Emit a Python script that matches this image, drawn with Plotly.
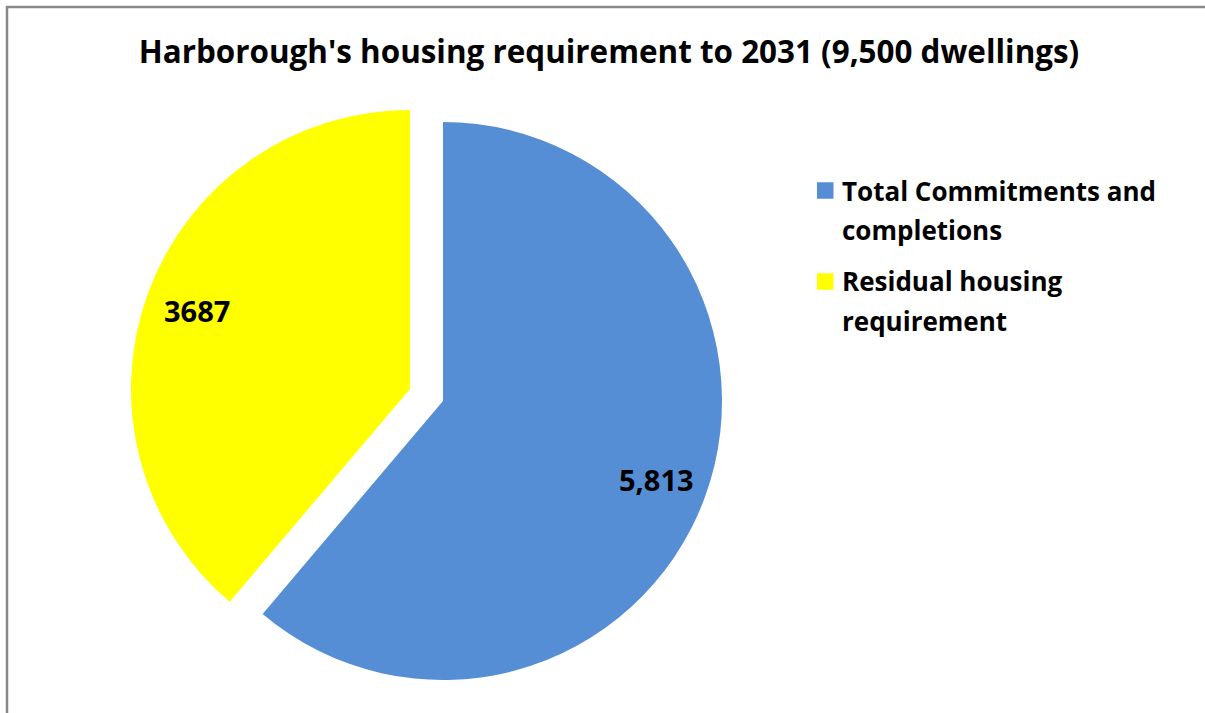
import math
import plotly.graph_objects as go

categories = ["Total Commitments and<br>completions", "Residual housing<br>requirement"]
values = [5813, 3687]
value_labels = ["5,813", "3687"]
colors = ["#558ED5", "#FFFF00"]
title_text = "Harborough's housing requirement to 2031 (9,500 dwellings)"

W, H = 1205, 713
FONT = "Open Sans"
PULL = 0.063
CX, CY, R = 426.5, 395.0, 279.0  # pie centre / radius in px (layout)

fig = go.Figure(go.Pie(
    labels=categories,
    values=values,
    textinfo="none",
    marker=dict(colors=colors, line=dict(width=0)),
    pull=[PULL] * len(values),
    sort=False,
    direction="clockwise",
    rotation=0,
    hole=0,
    showlegend=False,
    domain=dict(x=[CX / W - 0.3, CX / W + 0.3],
                y=[1 - (CY + R * (1 + PULL)) / H, 1 - (CY - R * (1 + PULL)) / H]),
))

# value labels placed along each slice's bisector (derived from the data)
total = sum(values)
annotations = []
cum = 0.0
for v, lab in zip(values, value_labels):
    mid = (cum + v / 2) / total * 2 * math.pi
    cum += v
    dx, dy = math.sin(mid), -math.cos(mid)
    px = CX + R * PULL * dx + 0.815 * R * dx
    py = CY + R * PULL * dy + 0.815 * R * dy
    annotations.append(dict(x=px / W, y=1 - py / H, xref="paper", yref="paper",
                            xanchor="center", yanchor="middle",
                            text="<b>" + lab + "</b>", showarrow=False,
                            font=dict(family=FONT, size=29, color="black")))

# legend (square swatch + wrapped bold text), built from categories/colors
shapes = []
LEG_X_SW, LEG_X_TXT, LEG_Y0, LINE_H, ITEM_GAP, SW = 817, 840, 190.5, 39, 13, 16.5
y = LEG_Y0
for cat, col in zip(categories, colors):
    shapes.append(dict(type="rect", xref="paper", yref="paper",
                       x0=LEG_X_SW / W, x1=(LEG_X_SW + SW) / W,
                       y0=1 - (y + SW / 2) / H, y1=1 - (y - SW / 2) / H,
                       fillcolor=col, line=dict(width=0)))
    for line in cat.split("<br>"):
        annotations.append(dict(x=LEG_X_TXT / W, y=1 - y / H, xref="paper", yref="paper",
                                xanchor="left", yanchor="middle", showarrow=False,
                                text="<b>" + line + "</b>",
                                font=dict(family=FONT, size=26, color="black")))
        y += LINE_H
    y += ITEM_GAP

shapes.append(dict(type="rect", xref="paper", yref="paper",
                   x0=7 / W, y0=-0.05, x1=1.05, y1=1 - 7 / H,
                   line=dict(color="#898989", width=2.5), fillcolor="rgba(0,0,0,0)"))

fig.update_layout(
    width=W, height=H,
    margin=dict(l=0, r=0, t=0, b=0),
    paper_bgcolor="white",
    plot_bgcolor="white",
    title=dict(text="<b>" + title_text + "</b>", x=609 / W, xanchor="center",
               y=1 - 52 / H, yanchor="middle",
               font=dict(family=FONT, size=31.4, color="black")),
    annotations=annotations,
    shapes=shapes,
)

fig.write_html("out.html", config={"displayModeBar": False},
               post_script="document.body.style.margin='0';document.body.style.padding='0';")
